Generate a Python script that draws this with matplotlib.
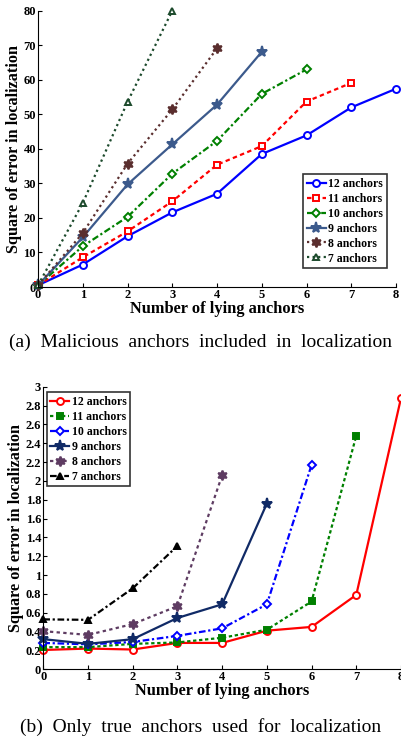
import matplotlib
matplotlib.use("Agg")
import matplotlib.pyplot as plt

# x positions (number of lying anchors)
lying = [0, 1, 2, 3, 4, 5, 6, 7, 8]
labels = ["12 anchors", "11 anchors", "10 anchors", "9 anchors", "8 anchors", "7 anchors"]

# (a) malicious anchors included in localization
err_a_12 = [0.5, 6.5, 14.7, 21.6, 27.0, 38.5, 43.9, 52.0, 57.4]
err_a_11 = [0.5, 8.6, 16.1, 24.8, 35.4, 40.8, 53.7, 59.1]
err_a_10 = [0.5, 11.8, 20.3, 32.8, 42.3, 55.9, 63.0]
err_a_9 = [0.5, 14.4, 29.7, 41.3, 52.8, 68.1]
err_a_8 = [0.5, 15.6, 35.7, 51.4, 69.1]
err_a_7 = [0.5, 24.3, 53.6, 80.0]

# (b) only true anchors used for localization
err_b_12 = [0.205, 0.22, 0.21, 0.28, 0.28, 0.41, 0.45, 0.79, 2.88]
err_b_11 = [0.235, 0.235, 0.27, 0.285, 0.335, 0.42, 0.72, 2.48]
err_b_10 = [0.28, 0.265, 0.29, 0.355, 0.435, 0.69, 2.17]
err_b_9 = [0.32, 0.27, 0.32, 0.545, 0.69, 1.76]
err_b_8 = [0.405, 0.365, 0.48, 0.67, 2.06]
err_b_7 = [0.53, 0.525, 0.86, 1.31]

hexagram = (6, 1, 0)

style_a = [
    dict(color="#0000ff", ls="-", marker="o", mfc="white"),
    dict(color="#ff0000", ls=(0, (2, 1.5)), marker="s", mfc="white"),
    dict(color="#008000", ls=(0, (3, 1.2, 1, 1.2)), marker="D", mfc="white", ms=4),
    dict(color="#3c5a8c", ls="-", marker="*", ms=8),
    dict(color="#5a2e2e", ls=(0, (1, 1.5)), marker=hexagram, ms=7),
    dict(color="#1c4a2c", ls=(0, (1, 1.5)), marker="^", mfc="white"),
]
style_b = [
    dict(color="#ff0000", ls="-", marker="o", mfc="white"),
    dict(color="#008000", ls=(0, (1.5, 1.2)), marker="s", mfc="#008000"),
    dict(color="#0000ff", ls=(0, (3, 1.2, 1, 1.2)), marker="D", mfc="white", ms=4),
    dict(color="#102a66", ls="-", marker="*", ms=8),
    dict(color="#5e3c62", ls=(0, (1.5, 1.5)), marker=hexagram, ms=7),
    dict(color="#000000", ls=(0, (3, 1.2, 1, 1.2)), marker="^", mfc="#000000"),
]

plt.rcParams["font.family"] = ["Liberation Serif", "DejaVu Serif"]
plt.rcParams["font.weight"] = "bold"

fig = plt.figure(figsize=(4.01, 7.38), dpi=100)


def draw(ax, series, styles, ylim, yticks, loc, bbox):
    for ys, st, lab in zip(series, styles, labels):
        st = dict(st)
        ms = st.pop("ms", 5)
        ax.plot(lying[:len(ys)], ys, lw=1.6, ms=ms, mew=1.4, label=lab,
                clip_on=False, **st)
    ax.set_xlim(0, 8)
    ax.set_ylim(*ylim)
    ax.set_xticks(range(9))
    ax.set_yticks(yticks)
    ax.set_yticklabels([f"{t:g}" for t in yticks])
    ax.spines["top"].set_visible(False)
    ax.spines["right"].set_visible(False)
    ax.tick_params(direction="in", length=3, labelsize=9, pad=1.5)
    ax.set_xlabel("Number of lying anchors", fontsize=11.8, fontweight="bold", labelpad=0)
    ax.set_ylabel("Square of error in localization", fontsize=11.7, fontweight="bold",
                  labelpad=1)
    leg = ax.legend(loc=loc, bbox_to_anchor=bbox, fontsize=8.5, frameon=True,
                    fancybox=False, edgecolor="black", handlelength=1.6,
                    handletextpad=0.2, borderpad=0.3, labelspacing=0.25,
                    borderaxespad=0)
    leg.get_frame().set_linewidth(1.2)


ax1 = fig.add_axes([0.0948, 0.6111, 0.8928, 0.3744])
draw(ax1, [err_a_12, err_a_11, err_a_10, err_a_9, err_a_8, err_a_7], style_a,
     (0, 80), list(range(0, 81, 10)), "upper left", (0.741, 0.408))

ax2 = fig.add_axes([0.108, 0.0931, 0.892, 0.3829])
yt = [round(0.2 * i, 1) for i in range(16)]
draw(ax2, [err_b_12, err_b_11, err_b_10, err_b_9, err_b_8, err_b_7], style_b,
     (0, 3), yt, "upper left", (0.01, 0.98))

fig.text(0.5, 0.5366, "(a)  Malicious  anchors  included  in  localization",
         ha="center", va="center", fontsize=14, fontweight="normal")
fig.text(0.5, 0.0149, "(b)  Only  true  anchors  used  for  localization",
         ha="center", va="center", fontsize=14, fontweight="normal")

fig.savefig("out.png", dpi=100)
